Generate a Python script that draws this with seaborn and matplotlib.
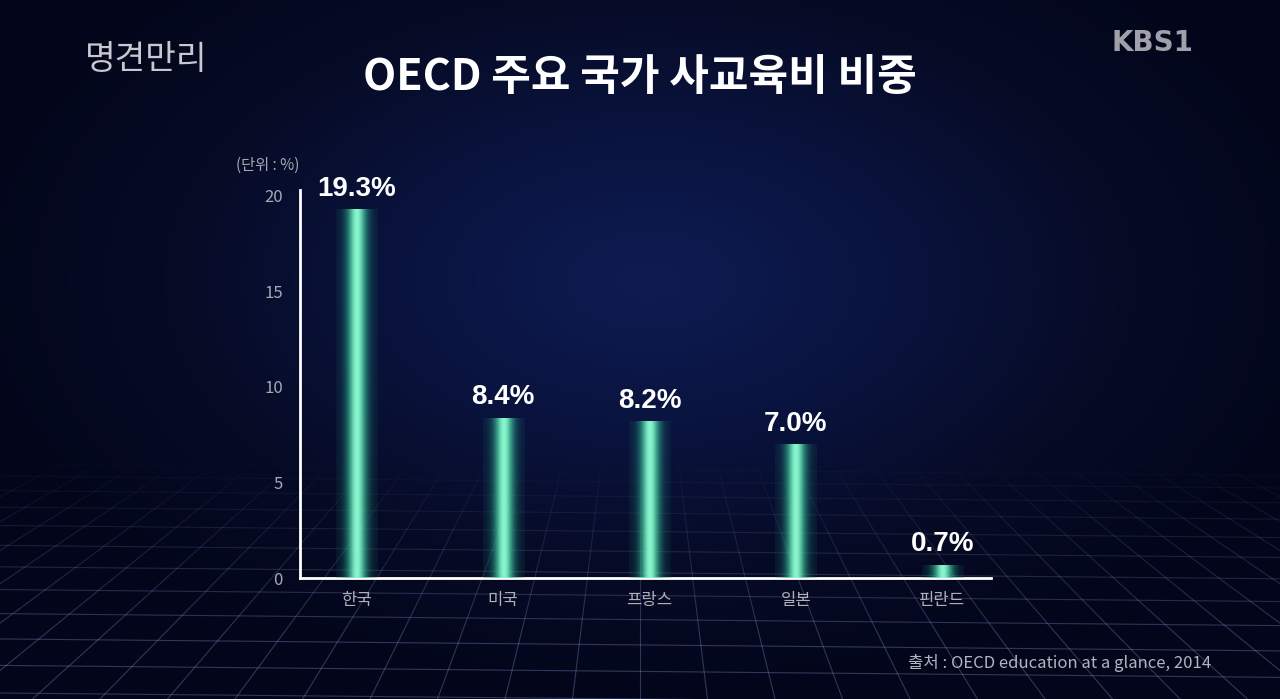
import numpy as np
import pandas as pd
import matplotlib
matplotlib.use("Agg")
import matplotlib.pyplot as plt
from matplotlib.colors import LinearSegmentedColormap
from matplotlib.collections import LineCollection
import seaborn as sns

sns.set_theme(style="dark")
plt.rcParams['font.family'] = ['Noto Sans CJK KR', 'DejaVu Sans']

# data
countries = ["한국", "미국", "프랑스", "일본", "핀란드"]
shares = [19.3, 8.4, 8.2, 7.0, 0.7]
value_labels = ["19.3%", "8.4%", "8.2%", "7.0%", "0.7%"]
y_ticks = [0, 5, 10, 15, 20]

df = pd.DataFrame({"country": countries, "share": shares})

fig = plt.figure(figsize=(12.8, 6.99), dpi=100)

# background: dark navy with a softer glow in the middle
bg = fig.add_axes([0, 0, 1, 1], zorder=0)
bg.set_xlim(0, 1280)
bg.set_ylim(699, 0)
bg.axis("off")
yy, xx = np.mgrid[0:699, 0:1280]
r = np.sqrt(((xx - 650) / 700.0) ** 2 + ((yy - 280) / 420.0) ** 2)
bg_cmap = LinearSegmentedColormap.from_list("bg", ["#0e1c52", "#0a1440", "#060b26", "#03061a"])
bg.imshow(np.clip(r, 0, 1), cmap=bg_cmap, extent=[0, 1280, 699, 0], aspect="auto", zorder=0)

# perspective floor grid, fading in towards the horizon
vx, vy, horizon = 640, 150, 455

def faded_line(x0, y0, x1, y1, n=30):
    t = np.linspace(0, 1, n + 1)
    px = x0 + (x1 - x0) * t
    py = y0 + (y1 - y0) * t
    segs = np.stack([np.column_stack([px[:-1], py[:-1]]), np.column_stack([px[1:], py[1:]])], axis=1)
    mid = (py[:-1] + py[1:]) / 2
    a = np.clip((mid - horizon) / 180.0, 0, 1) * 0.3
    cols = np.zeros((n, 4))
    cols[:, :3] = [0.6, 0.65, 0.92]
    cols[:, 3] = a
    bg.add_collection(LineCollection(segs, colors=cols, linewidths=0.8, zorder=1))

for k in range(-40, 41):
    xb = vx + k * 75
    t = (horizon - vy) / (760 - vy)
    xs = vx + (xb - vx) * t
    faded_line(xs, horizon, xb, 760)
for j in range(1, 14):
    yl = horizon + (699 - horizon) * (j / 13.0) ** 1.5
    faded_line(0, yl - 6, 1280, yl + 6, n=2)

# main chart
ax = fig.add_axes([0.234, 0.173, 0.54, 0.555], zorder=2)
ax.set_facecolor("none")
sns.barplot(data=df, x="country", y="share", width=0.28, ax=ax, color="#5fe0b0")

grad_x = np.linspace(-1, 1, 200)
profile = np.exp(-(grad_x / 0.55) ** 2)
bar_cmap = LinearSegmentedColormap.from_list("bar", ["#124a55", "#27927e", "#43c79d", "#8af7cf"])
rgba = bar_cmap(profile)
rgba[..., 3] = 0.15 + 0.85 * profile
rgba = np.repeat(rgba[None, :, :], 2, axis=0)

for patch, lab in zip(ax.patches, value_labels):
    x0, w, h = patch.get_x(), patch.get_width(), patch.get_height()
    patch.set_facecolor("none")
    patch.set_edgecolor("none")
    im = ax.imshow(rgba, extent=[x0, x0 + w, 0, h], aspect="auto", zorder=3)
    im.set_clip_path(patch)
    ax.text(x0 + w / 2, h + 0.4, lab, ha="center", va="bottom", color="white",
            fontsize=20, fontweight="bold", family=["Liberation Sans", "DejaVu Sans"])

ax.set_xlim(-0.39, 4.33)
ax.set_ylim(0, 20.3)
ax.set_yticks(y_ticks)
ax.set_yticklabels([str(v) for v in y_ticks], color="#a8a8b4", fontsize=12)
ax.set_xticks(range(len(countries)))
ax.set_xticklabels(countries, color="#b0b0bc", fontsize=12)
ax.tick_params(axis="both", length=0, pad=10)
ax.tick_params(axis="y", pad=12)
ax.set_xlabel("")
ax.set_ylabel("")
ax.grid(False)
for side in ["top", "right"]:
    ax.spines[side].set_visible(False)
for side in ["left", "bottom"]:
    ax.spines[side].set_color("white")
    ax.spines[side].set_linewidth(2)

# titles and captions
fig.text(0.5, 0.89, "OECD 주요 국가 사교육비 비중", ha="center", va="center",
         color="white", fontsize=31, fontweight="bold")
fig.text(0.184, 0.763, "(단위 : %)", ha="left", va="center", color="#a8a8b4", fontsize=11)
fig.text(0.946, 0.052, "출처 : OECD education at a glance, 2014", ha="right", va="center",
         color="#b4b4c0", fontsize=12)
fig.text(0.066, 0.915, "명견만리", ha="left", va="center", color="#c8c8d0", fontsize=24)
fig.text(0.932, 0.938, "KBS1", ha="right", va="center", color="#a0a0aa",
         fontsize=20, fontweight="bold", family=["DejaVu Sans"])

fig.savefig("out.png", dpi=100)
